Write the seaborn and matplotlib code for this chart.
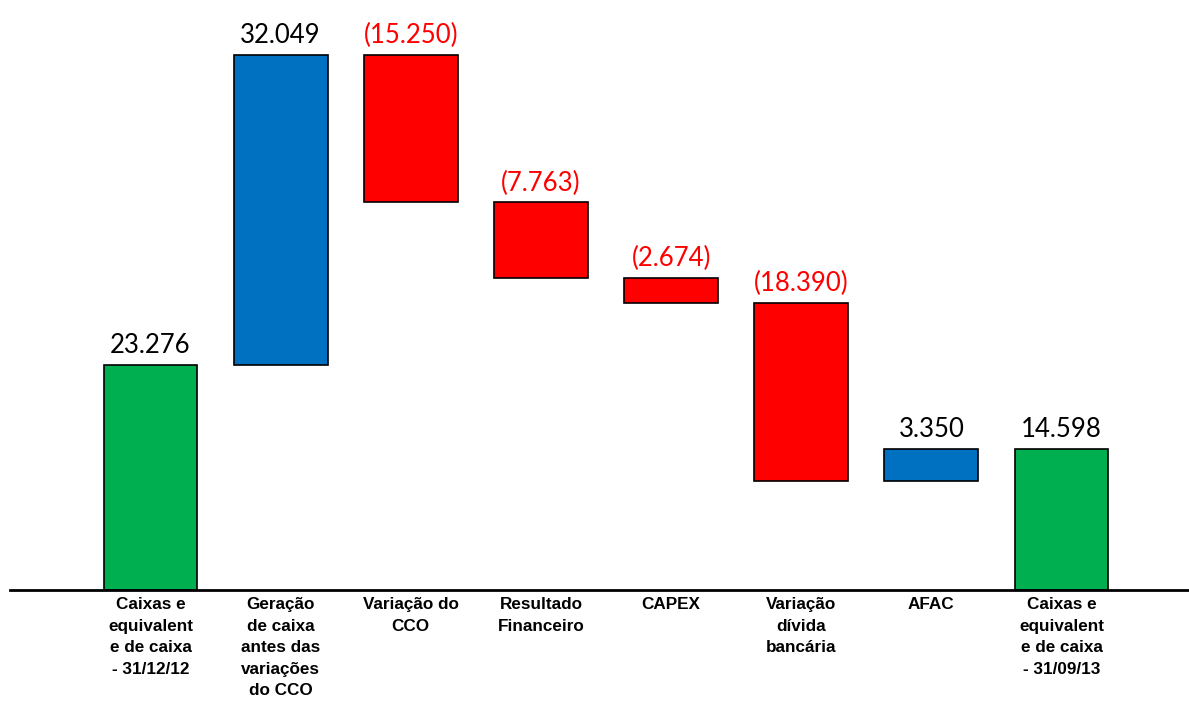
import matplotlib
matplotlib.use("Agg")
import matplotlib.pyplot as plt
import seaborn as sns
import pandas as pd

categories = [
    "Caixas e\nequivalent\ne de caixa\n- 31/12/12",
    "Geração\nde caixa\nantes das\nvariações\ndo CCO",
    "Variação do\nCCO",
    "Resultado\nFinanceiro",
    "CAPEX",
    "Variação\ndívida\nbancária",
    "AFAC",
    "Caixas e\nequivalent\ne de caixa\n- 31/09/13",
]
values = [23276, 32049, -15250, -7763, -2674, -18390, 3350, 14598]
kinds = ["total", "step", "step", "step", "step", "step", "step", "total"]

colors = {"total": "#00B050", "up": "#0070C0", "down": "#FF0000"}

# waterfall levels
bottoms, heights, tops, fills = [], [], [], []
running = 0
for v, k in zip(values, kinds):
    if k == "total":
        b, h = 0, v
        running = v
        fills.append(colors["total"])
    else:
        start, end = running, running + v
        b, h = min(start, end), abs(v)
        running = end
        fills.append(colors["up"] if v > 0 else colors["down"])
    bottoms.append(b)
    heights.append(h)
    tops.append(b + h)

df = pd.DataFrame({"cat": categories, "height": heights})

sns.set_style("white")
plt.rcParams["font.family"] = ["Liberation Sans", "DejaVu Sans"]

fig = plt.figure(figsize=(11.89, 7.02), dpi=100)
ax = fig.add_axes([10 / 1189, 112 / 702, 1179 / 1189, 590 / 702])

sns.barplot(data=df, x="cat", y="height", order=categories, bottom=bottoms,
            color=colors["total"], width=0.72, errorbar=None,
            edgecolor="black", linewidth=1.2, ax=ax)
for patch, c in zip(ax.patches, fills):
    patch.set_facecolor(c)

for i, (v, t) in enumerate(zip(values, tops)):
    txt = f"{abs(v):,}".replace(",", ".")
    if v < 0:
        txt = f"({txt})"
    ax.annotate(txt, (i, t), xytext=(0, 5), textcoords="offset points",
                ha="center", va="bottom", fontsize=18.5, family=["Lato", "DejaVu Sans"],
                color="red" if v < 0 else "black")

ax.set_xlim(-1.08, 7.98)
ax.set_ylim(0, 55325 * 590 / 535)
sns.despine(ax=ax, left=True)
ax.spines["bottom"].set_linewidth(2)
ax.spines["bottom"].set_color("black")
ax.set_yticks([])
ax.set_xlabel("")
ax.set_ylabel("")
ax.tick_params(axis="x", length=0, pad=5, colors="black")
for lab in ax.get_xticklabels():
    lab.set_fontweight("bold")
    lab.set_fontsize(12.3)
    lab.set_linespacing(1.55)
    lab.set_verticalalignment("top")

fig.savefig("out.png", dpi=100)
